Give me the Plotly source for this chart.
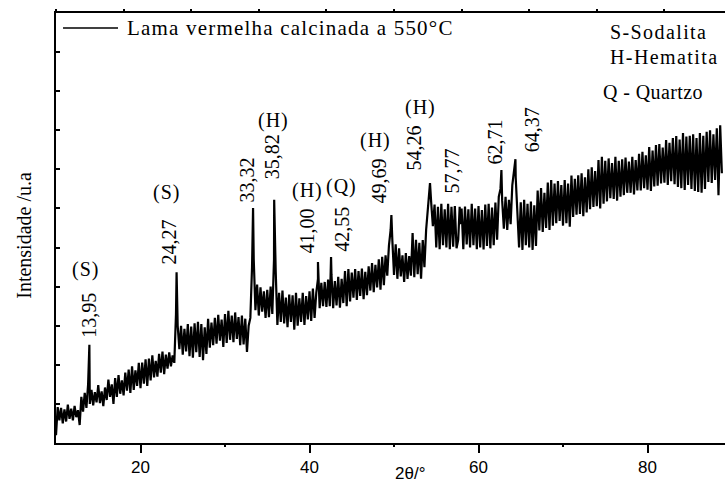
import numpy as np
import plotly.graph_objects as go

# Scan grid (2θ, degrees) and measured intensities, 5 points per degree
scan_start, scan_step = 10.0, 0.2
intensity = [
    20, 92, 58, 90, 50,      # 10
    86, 55, 98, 62, 88,      # 11
    58, 95, 66, 84, 46,      # 12
    118, 80, 128, 90, 150,   # 13
    100, 136, 96, 130, 104,  # 14
    148, 102, 132, 94, 142,  # 15
    110, 162, 118, 150, 100, # 16
    166, 118, 174, 126, 160, # 17
    122, 180, 134, 188, 128, # 18
    196, 136, 186, 146, 205, # 19
    140, 206, 152, 214, 146, # 20
    216, 160, 224, 168, 210, # 21
    170, 228, 180, 234, 176, # 22
    226, 190, 232, 196, 224, # 23
    205, 330, 300, 240, 300, # 24
    226, 292, 234, 304, 222, # 25
    298, 218, 306, 232, 310, # 26
    220, 304, 212, 296, 228, # 27
    318, 244, 308, 250, 320, # 28
    254, 328, 262, 316, 246, # 29
    330, 256, 338, 264, 326, # 30
    258, 334, 266, 322, 250, # 31
    326, 252, 318, 233, 300, # 32
    320, 450, 470, 340, 405, # 33
    326, 398, 336, 388, 320, # 34
    392, 322, 400, 330, 470, # 35
    440, 302, 384, 310, 390, # 36
    306, 372, 296, 380, 310, # 37
    378, 290, 384, 300, 370, # 38
    310, 384, 302, 376, 316, # 39
    388, 312, 395, 320, 384, # 40
    420, 345, 410, 350, 412, # 41
    348, 418, 350, 430, 345, # 42
    414, 352, 425, 346, 420, # 43
    358, 440, 350, 445, 362, # 44
    436, 372, 445, 366, 440, # 45
    376, 446, 368, 438, 378, # 46
    452, 390, 460, 386, 456, # 47
    398, 470, 392, 476, 404, # 48
    480, 428, 505, 545, 520, # 49
    430, 508, 420, 498, 426, # 50
    480, 412, 486, 420, 478, # 51
    428, 537, 424, 520, 432, # 52
    512, 420, 519, 450, 545, # 53
    590, 640, 615, 555, 610, # 54
    500, 604, 496, 612, 506, # 55
    598, 500, 612, 496, 604, # 56
    502, 606, 498, 520, 560, # 57
    600, 496, 605, 508, 598, # 58
    500, 612, 506, 600, 496, # 59
    606, 500, 596, 495, 610, # 60
    504, 612, 498, 602, 506, # 61
    615, 520, 630, 650, 620, # 62
    548, 630, 545, 622, 560, # 63
    660, 690, 680, 580, 500, # 64
    616, 494, 622, 506, 612, # 65
    500, 618, 494, 608, 504, # 66
    646, 544, 652, 540, 640, # 67
    550, 666, 545, 673, 556, # 68
    664, 562, 670, 568, 660, # 69
    556, 673, 562, 664, 553, # 70
    684, 578, 676, 584, 685, # 71
    586, 690, 580, 680, 590, # 72
    700, 598, 705, 604, 696, # 73
    606, 724, 600, 732, 612, # 74
    722, 618, 728, 626, 716, # 75
    624, 732, 620, 722, 630, # 76
    726, 634, 730, 640, 720, # 77
    640, 732, 636, 724, 646, # 78
    740, 646, 745, 652, 736, # 79
    648, 757, 645, 748, 656, # 80
    762, 658, 765, 664, 756, # 81
    666, 775, 660, 768, 670, # 82
    780, 662, 785, 655, 776, # 83
    652, 793, 647, 784, 660, # 84
    786, 650, 790, 645, 780, # 85
    642, 793, 640, 786, 650, # 86
    796, 668, 800, 665, 790, # 87
    673, 805, 634, 813, 690, # 88
]

# Indexed reflections: position (2θ), apex intensity, phase
peak_pos = [13.95, 24.27, 33.32, 35.82, 41.00, 42.55, 49.69, 54.26, 57.77, 62.71, 64.37]
peak_top = [251, 437, 601, 622, 463, 476, 583, 665, 604, 698, 726]
peak_phase = ["(S)", "(S)", "", "(H)", "(H)", "(Q)", "(H)", "(H)", "", "", ""]

two_theta = np.round(scan_start + scan_step * np.arange(len(intensity)), 2)

# merge reflection apexes into the scan
xs = np.concatenate([two_theta, peak_pos])
ys = np.concatenate([intensity, peak_top])
order = np.argsort(xs, kind="stable")
xs, ys = xs[order], ys[order]

SERIF = "Liberation Serif"
SANS = "Liberation Sans"

fig = go.Figure()
fig.add_trace(go.Scatter(x=xs, y=ys, mode="lines",
                         line=dict(color="black", width=2.2),
                         name="Lama vermelha calcinada a 550°C",
                         showlegend=False, hoverinfo="skip"))
# top axis carrying its own tick marks
fig.add_trace(go.Scatter(x=[10], y=[0], xaxis="x2", mode="markers",
                         marker=dict(opacity=0), showlegend=False, hoverinfo="skip"))

X_RANGE = [10, 89.17]

# label anchor positions (2θ, intensity) for value and phase text
value_pos = [(13.96, 327), (23.43, 514), (32.54, 673), (35.50, 732), (39.76, 542),
             (43.91, 547), (48.28, 670), (52.31, 755), (56.80, 696), (62.01, 770), (66.27, 801)]
phase_pos = [(13.49, 443), (23.08, 640), None, (35.74, 826), (39.76, 645),
             (43.79, 657), (47.81, 773), (53.14, 857), None, None, None]

ann = []
for p, vp, ph, pp in zip(peak_pos, value_pos, peak_phase, phase_pos):
    ann.append(dict(x=vp[0], y=vp[1], xref="x", yref="y", showarrow=False,
                    text=f"{p:.2f}".replace(".", ","), textangle=-90,
                    font=dict(family=SERIF, size=20, color="black"),
                    xanchor="center", yanchor="middle"))
    if ph:
        ann.append(dict(x=pp[0], y=pp[1], xref="x", yref="y", showarrow=False,
                        text=f'<span style="letter-spacing:1px">{ph}</span>',
                        font=dict(family=SERIF, size=20, color="black"),
                        xanchor="center", yanchor="middle"))

# legend text and phase key
ann.append(dict(x=0.103, y=0.965, xref="paper", yref="paper", showarrow=False,
                text='<span style="letter-spacing:1.2px">Lama vermelha calcinada a 550°C</span>',
                font=dict(family=SERIF, size=21, color="black"),
                xanchor="left", yanchor="middle"))
for txt, xx, yy, sp in [("S-Sodalita", 0.825, 0.956, 1.4),
                        ("H-Hematita", 0.825, 0.898, 1.4),
                        ("Q - Quartzo", 0.815, 0.816, 0.4)]:
    ann.append(dict(x=xx, y=yy, xref="paper", yref="paper", showarrow=False,
                    text=f'<span style="letter-spacing:{sp}px">{txt}</span>',
                    font=dict(family=SERIF, size=20, color="black"),
                    xanchor="left", yanchor="middle"))

# axis titles
ann.append(dict(x=-0.048, y=0.484, xref="paper", yref="paper", showarrow=False,
                text="Intensidade /u.a", textangle=-90,
                font=dict(family=SERIF, size=20, color="black"),
                xanchor="center", yanchor="middle"))
ann.append(dict(x=0.529, y=-0.072, xref="paper", yref="paper", showarrow=False,
                text="2θ/°", font=dict(family=SANS, size=17, color="black"),
                xanchor="center", yanchor="middle"))

fig.update_layout(
    width=725, height=487,
    margin=dict(l=56, r=0, t=13, b=44),
    plot_bgcolor="white", paper_bgcolor="white",
    annotations=ann,
    shapes=[dict(type="line", xref="paper", yref="paper",
                 x0=0.0105, x1=0.0927, y0=0.965, y1=0.965,
                 line=dict(color="black", width=1.5))],
    xaxis=dict(range=X_RANGE, showgrid=False, zeroline=False,
               showline=True, linecolor="black", linewidth=2, mirror=True,
               ticks="outside", ticklen=8, tickwidth=2, tickcolor="black",
               tickvals=[20, 40, 60, 80],
               tickfont=dict(family=SANS, size=17, color="black"),
               minor=dict(tickvals=[30, 50, 70], ticks="outside", ticklen=2,
                          tickwidth=1.5, tickcolor="black")),
    xaxis2=dict(range=X_RANGE, overlaying="x", side="top", showgrid=False,
                zeroline=False, showline=False, ticks="outside", ticklen=3,
                tickwidth=1.5, tickcolor="black", tick0=18, dtick=8,
                showticklabels=False),
    yaxis=dict(range=[0, 1100], showgrid=False, zeroline=False,
               showline=True, linecolor="black", linewidth=2,
               ticks="inside", ticklen=4, tickwidth=1.5, tickcolor="black",
               dtick=100, showticklabels=False),
)

fig.write_html("out.html")
